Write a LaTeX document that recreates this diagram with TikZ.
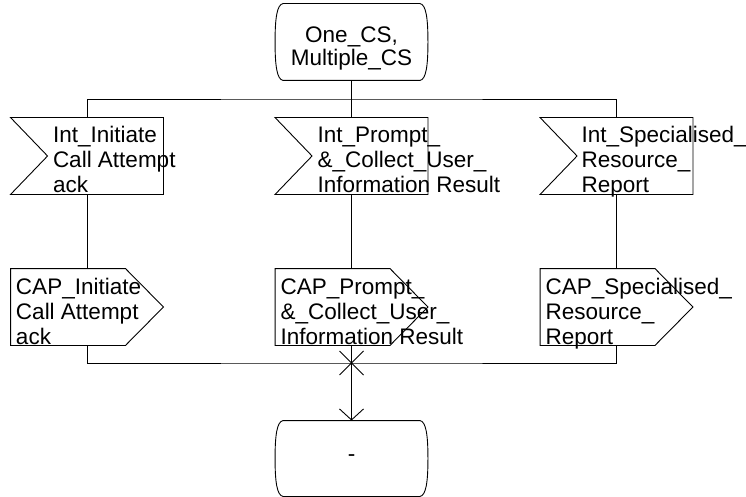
\documentclass[tikz,border=0pt]{standalone}
\usepackage{fontspec}
\setmainfont{Liberation Sans}
\usetikzlibrary{arrows.meta}

% strut that puts the first baseline 25pt below the top of a text block
\newcommand\firstline{\rule{0pt}{25pt}}

% SDL symbol outlines drawn around an invisible frame node
\newcommand\inshape[1]{%
  \draw (#1.north west) -- (#1.north east) -- (#1.south east) -- (#1.south west)
    -- ([shift={(37,0)}]#1.west) -- cycle;}
\newcommand\outshape[1]{%
  \draw (#1.north west) -- ([shift={(-38,0)}]#1.north east) -- (#1.east)
    -- ([shift={(-38,0)}]#1.south east) -- (#1.south west) -- cycle;}
\newcommand\stateshape[1]{%
  \draw ([shift={(8,0)}]#1.north west) -- ([shift={(-8,0)}]#1.north east)
    .. controls ([shift={(-2,1)}]#1.north east) and ([shift={(0,14)}]#1.north east) .. (#1.east)
    .. controls ([shift={(0,-14)}]#1.south east) and ([shift={(-2,-1)}]#1.south east) .. ([shift={(-8,0)}]#1.south east)
    -- ([shift={(8,0)}]#1.south west)
    .. controls ([shift={(2,-1)}]#1.south west) and ([shift={(0,-14)}]#1.south west) .. (#1.west)
    .. controls ([shift={(0,14)}]#1.north west) and ([shift={(2,1)}]#1.north west) .. ([shift={(8,0)}]#1.north west)
    -- cycle;}

\tikzset{
  frame/.style={rectangle, inner sep=0pt, minimum width=152pt, minimum height=76pt},
  boxtext/.style={anchor=north west, inner sep=0pt, align=left,
    font=\fontsize{22.5}{25}\selectfont},
  statetext/.style={anchor=north, inner sep=0pt, align=center,
    font=\fontsize{22.5}{23}\selectfont},
  stem/.style={line width=1.8pt},
  flow/.style={line width=1.8pt,
    -{Straight Barb[length=11pt,width=24pt,line width=0.9pt]}},
}

\begin{document}
\begin{tikzpicture}[x=1pt, y=-1pt, line width=0.9pt]
\useasboundingbox (0,0) rectangle (746,497);

% symbol frames
\node[frame] (start) at (351.5,42) {};
\node[frame] (int1) at (87,156) {};
\node[frame] (int2) at (351.5,156) {};
\node[frame] (int3) at (616.5,156) {};
\node[frame] (cap1) at (87,307) {};
\node[frame] (cap2) at (351.5,307) {};
\node[frame] (cap3) at (616.5,307) {};
\node[frame, minimum height=75pt] (end) at (351.5,458.5) {};

% outlines
\stateshape{start}
\inshape{int1}
\inshape{int2}
\inshape{int3}
\outshape{cap1}
\outshape{cap2}
\outshape{cap3}
\stateshape{end}

% texts
\node[statetext] (startt) at (351.5,17) {\firstline One\_CS,\\Multiple\_CS};
\node[boxtext] (int1t) at ([shift={(42,0)}]int1.north west) {\firstline Int\_Initiate\\Call Attempt\\ack};
\node[boxtext] (int2t) at ([shift={(42,0)}]int2.north west) {\firstline Int\_Prompt\_\\\&\_Collect\_User\_\\Information Result};
\node[boxtext] (int3t) at ([shift={(41,0)}]int3.north west) {\firstline Int\_Specialised\_\\Resource\_\\Report};
\node[boxtext] (cap1t) at ([shift={(5,0)}]cap1.north west) {\firstline CAP\_Initiate\\Call Attempt\\ack};
\node[boxtext] (cap2t) at ([shift={(5,0)}]cap2.north west) {\firstline CAP\_Prompt\_\\\&\_Collect\_User\_\\Information Result};
\node[boxtext] (cap3t) at ([shift={(5,0)}]cap3.north west) {\firstline CAP\_Specialised\_\\Resource\_\\Report};
\node[inner sep=0pt, font=\fontsize{22.5}{25}\selectfont] (endt) at (end) {-};

% fan-out to the input signals
\coordinate (fork) at (351.5,99);
\draw[stem] (start.south) -- (fork);
\draw (int1.north) |- (fork) -| (int3.north);
\draw (fork) -- (int2.north);

% input to output
\draw (int1.south) -- (cap1.north);
\draw (int2.south) -- (cap2.north);
\draw (int3.south) -- (cap3.north);

% join into the next state
\coordinate (join) at (351.5,363);
\draw (cap1.south) |- (join) -| (cap3.south);
\draw (cap2.south) -- (join);
\draw ([shift={(-12,-12)}]join) -- ([shift={(12,12)}]join)
      ([shift={(12,-12)}]join) -- ([shift={(-12,12)}]join);
\draw[flow] (join) -- (end.north);
\end{tikzpicture}
\end{document}
